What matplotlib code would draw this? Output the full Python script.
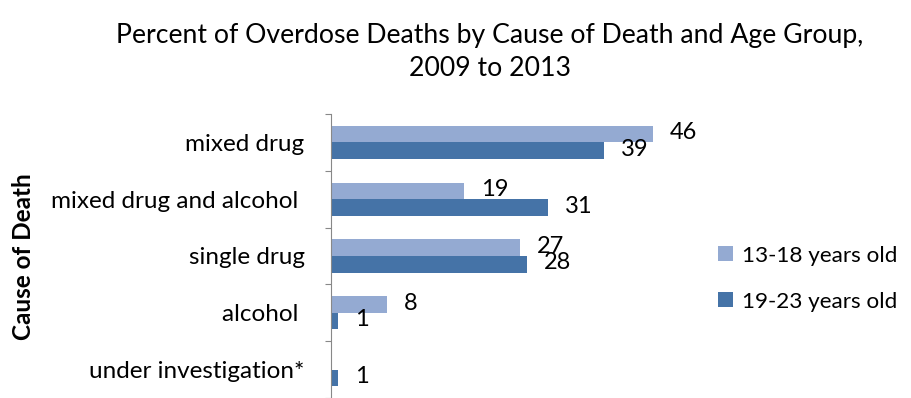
import numpy as np
import matplotlib
matplotlib.use("Agg")
import matplotlib.pyplot as plt

plt.rcParams["font.family"] = ["Lato", "DejaVu Sans"]

# data
causes = ["mixed drug", "mixed drug and alcohol ", "single drug", "alcohol ", "under investigation*"]
teen_pct = [46, 19, 27, 8, None]     # 13-18 years old (no value for under investigation)
young_pct = [39, 31, 28, 1, 1]       # 19-23 years old
series_names = ["13-18 years old", "19-23 years old"]

light = "#94AAD2"
dark = "#4573A7"

fig = plt.figure(figsize=(9.12, 3.98), dpi=100)
ax = fig.add_axes([331 / 912, 0.0, 364 / 912, 1 - 114 / 398])

y = np.arange(len(causes))
h = 0.293
teen_vals = np.array([np.nan if v is None else v for v in teen_pct], dtype=float)
young_vals = np.array(young_pct, dtype=float)

ax.barh(y - h / 2, teen_vals, height=h, color=light, label=series_names[0])
ax.barh(y + h / 2, young_vals, height=h, color=dark, label=series_names[1])

# value labels just past the bar end
for yi, v in zip(y, teen_pct):
    if v is not None:
        ax.annotate(str(v), (v, yi - h / 2), xytext=(12, 1), textcoords="offset points",
                    va="center", ha="left", fontsize=17)
for yi, v in zip(y, young_pct):
    ax.annotate(str(v), (v, yi + h / 2), xytext=(12, 1), textcoords="offset points",
                va="center", ha="left", fontsize=17)

ax.set_xlim(0, 52)
ax.set_ylim(len(causes) - 0.5, -0.5)
ax.xaxis.set_visible(False)
for s in ["top", "right", "bottom"]:
    ax.spines[s].set_visible(False)
ax.spines["left"].set_color("#888888")

# tick marks sit on the category boundaries, labels at the centres
ax.set_yticks(np.arange(-0.5, len(causes)), [""] * (len(causes) + 1))
ax.tick_params(axis="y", which="major", length=4, color="#888888")
ax.set_yticks(y, causes, minor=True)
ax.tick_params(axis="y", which="minor", length=0, pad=19, labelsize=17.5)

fig.text(0.026, 0.355, "Cause of Death", rotation=90, fontsize=17.5, fontweight="bold",
         ha="center", va="center")

fig.text(0.537, 0.869, "Percent of Overdose Deaths by Cause of Death and Age Group,\n2009 to 2013",
         ha="center", va="center", fontsize=19.2, linespacing=1.43)

ax.legend(loc="center left", bbox_to_anchor=(378 / 364, 0.42), frameon=False, fontsize=16.2,
          handlelength=0.65, handleheight=0.65, handletextpad=0.4, labelspacing=1.15,
          borderaxespad=0)

fig.savefig("out.png", dpi=100)
